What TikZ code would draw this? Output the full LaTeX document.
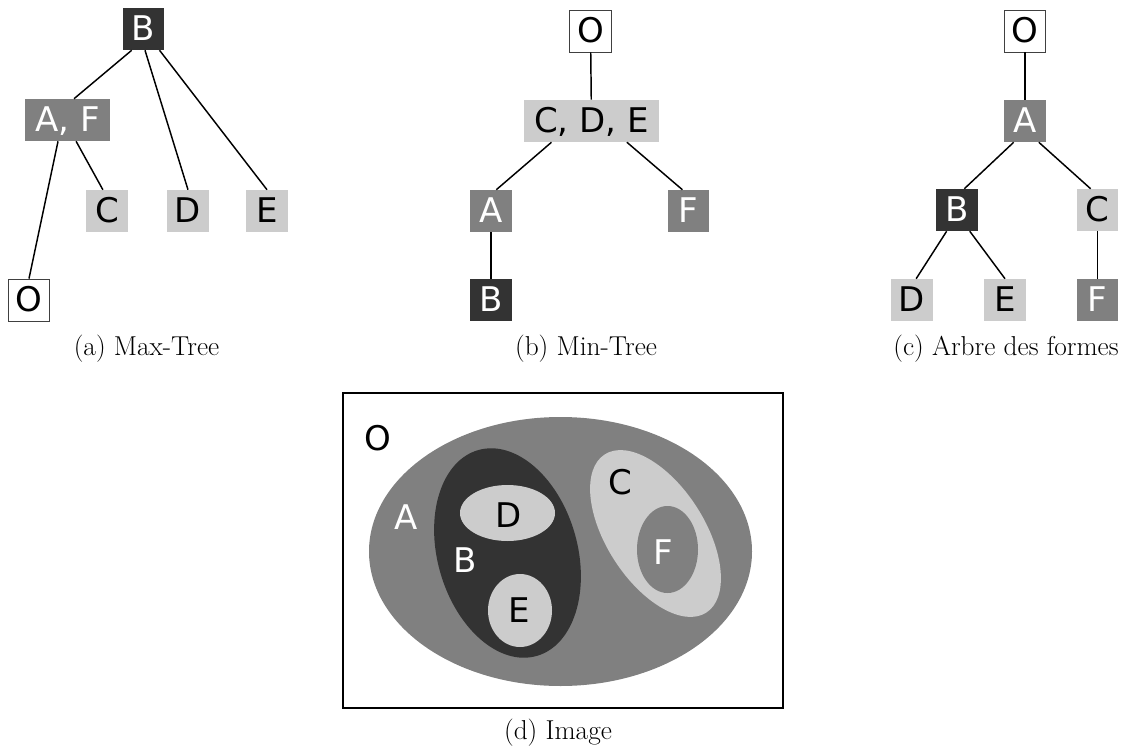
\documentclass[tikz,border=0pt]{standalone}
\usepackage{fontspec}
\newfontfamily\lblfont{DejaVu Sans}
\definecolor{lvD}{HTML}{333333}
\definecolor{lvM}{HTML}{808080}
\definecolor{lvL}{HTML}{CCCCCC}
\newcommand{\LBL}{\lblfont\fontsize{25.5}{30}\selectfont}
\newcommand{\CAPY}{349}

\begin{document}
\begin{tikzpicture}[
    x=0.75pt, y=-0.75pt,
    lnk/.style={draw=black, line width=1.1pt},
    Bx/.style={rectangle, minimum width=31pt, minimum height=31.5pt, inner xsep=5pt, inner ysep=0pt,
               text height=18.6pt, text depth=2pt, font=\LBL},
    Dk/.style={Bx, fill=lvD, text=white},
    Md/.style={Bx, fill=lvM, text=white},
    Lt/.style={Bx, fill=lvL, text=black},
    Wh/.style={Bx, fill=white, draw=black!75, line width=0.6pt, text=black},
    wide/.style={inner xsep=7.7pt},
    rg/.style={font=\LBL, inner sep=0pt},
    tag/.style={font=\fontsize{20.5}{24}\selectfont, inner sep=0pt},
  ]
  \useasboundingbox (0,0) rectangle (1121,749);

  %% ================= (a) max-tree =================
  \node[Dk] (aB) at (143.5,29) {B};
  \node[Md, wide] (aAF) at (67.5,120) {A, F};
  \node[Lt] (aC) at (107,211) {C};
  \node[Lt] (aD) at (188,211) {D};
  \node[Lt] (aE) at (267,211) {E};
  \node[Wh] (aO) at (29,300) {O};
  \draw[lnk] (aB.241) -- (aAF.73);
  \draw[lnk] (aB.274) -- (aD.north);
  \draw[lnk] (aB.307) -- (aE.north);
  \draw[lnk] (aAF.246) -- (aO.north);
  \draw[lnk] (aAF.292) -- (aC.101);
  \node[tag] (capA) at (146.5,\CAPY) {(a) Max-Tree};

  %% ================= (b) min-tree =================
  \node[Wh] (bO) at (590.5,31) {O};
  \node[Lt, wide] (bCDE) at (591.5,121) {C, D, E};
  \node[Md] (bA) at (491,211) {A};
  \node[Md] (bF) at (688.5,211) {F};
  \node[Dk] (bB) at (491,300) {B};
  \draw[lnk] (bO) -- (bCDE);
  \draw[lnk] (bCDE.208) -- (bA.76);
  \draw[lnk] (bCDE.329) -- (bF.106);
  \draw[lnk] (bA) -- (bB);
  \node[tag] (capB) at (586,\CAPY) {(b) Min-Tree};

  %% ================= (c) tree of shapes =================
  \node[Wh] (cO) at (1025,31) {O};
  \node[Md] (cA) at (1025,121) {A};
  \node[Dk] (cB) at (957,210) {B};
  \node[Lt] (cC) at (1097.5,210) {C};
  \node[Lt] (cD) at (912,300) {D};
  \node[Lt] (cE) at (1005,300) {E};
  \node[Md] (cF) at (1097.5,300) {F};
  \draw[lnk] (cO) -- (cA);
  \draw[lnk] (cA.242) -- (cB.71);
  \draw[lnk] (cA.303) -- (cC.108);
  \draw[lnk] (cB.244) -- (cD.79);
  \draw[lnk] (cB.301) -- (cE.north);
  \draw[lnk] (cC) -- (cF);
  \node[tag] (capC) at (1006,\CAPY) {(c) Arbre des formes};

  %% ================= (d) image =================
  \draw[line width=1.5pt] (343,393) rectangle (783,708);
  \fill[lvM] (560.5,551.5) ellipse [x radius=191.5, y radius=134.5];
  \fill[lvD, rotate around={15.8:(507.5,553)}] (507.5,553) ellipse [x radius=70, y radius=107];
  \fill[lvL] (507.5,513) ellipse [x radius=47.5, y radius=28];
  \fill[lvL] (520,610.5) ellipse [x radius=32, y radius=36.5];
  \fill[lvL, rotate around={32.7:(655.5,533.5)}] (655.5,533.5) ellipse [x radius=49, y radius=94];
  \fill[lvM] (667.5,549.5) ellipse [x radius=30.5, y radius=43.5];
  \node[rg, text=black] (dO) at (378,438) {O};
  \node[rg, text=white] (dA) at (406,517) {A};
  \node[rg, text=white] (dB) at (465,560) {B};
  \node[rg, text=black] (dD) at (509,515) {D};
  \node[rg, text=black] (dE) at (519,610) {E};
  \node[rg, text=black] (dC) at (620,482) {C};
  \node[rg, text=white] (dF) at (663,552) {F};
  \node[tag] (capD) at (558,733) {(d) Image};

\end{tikzpicture}
\end{document}
